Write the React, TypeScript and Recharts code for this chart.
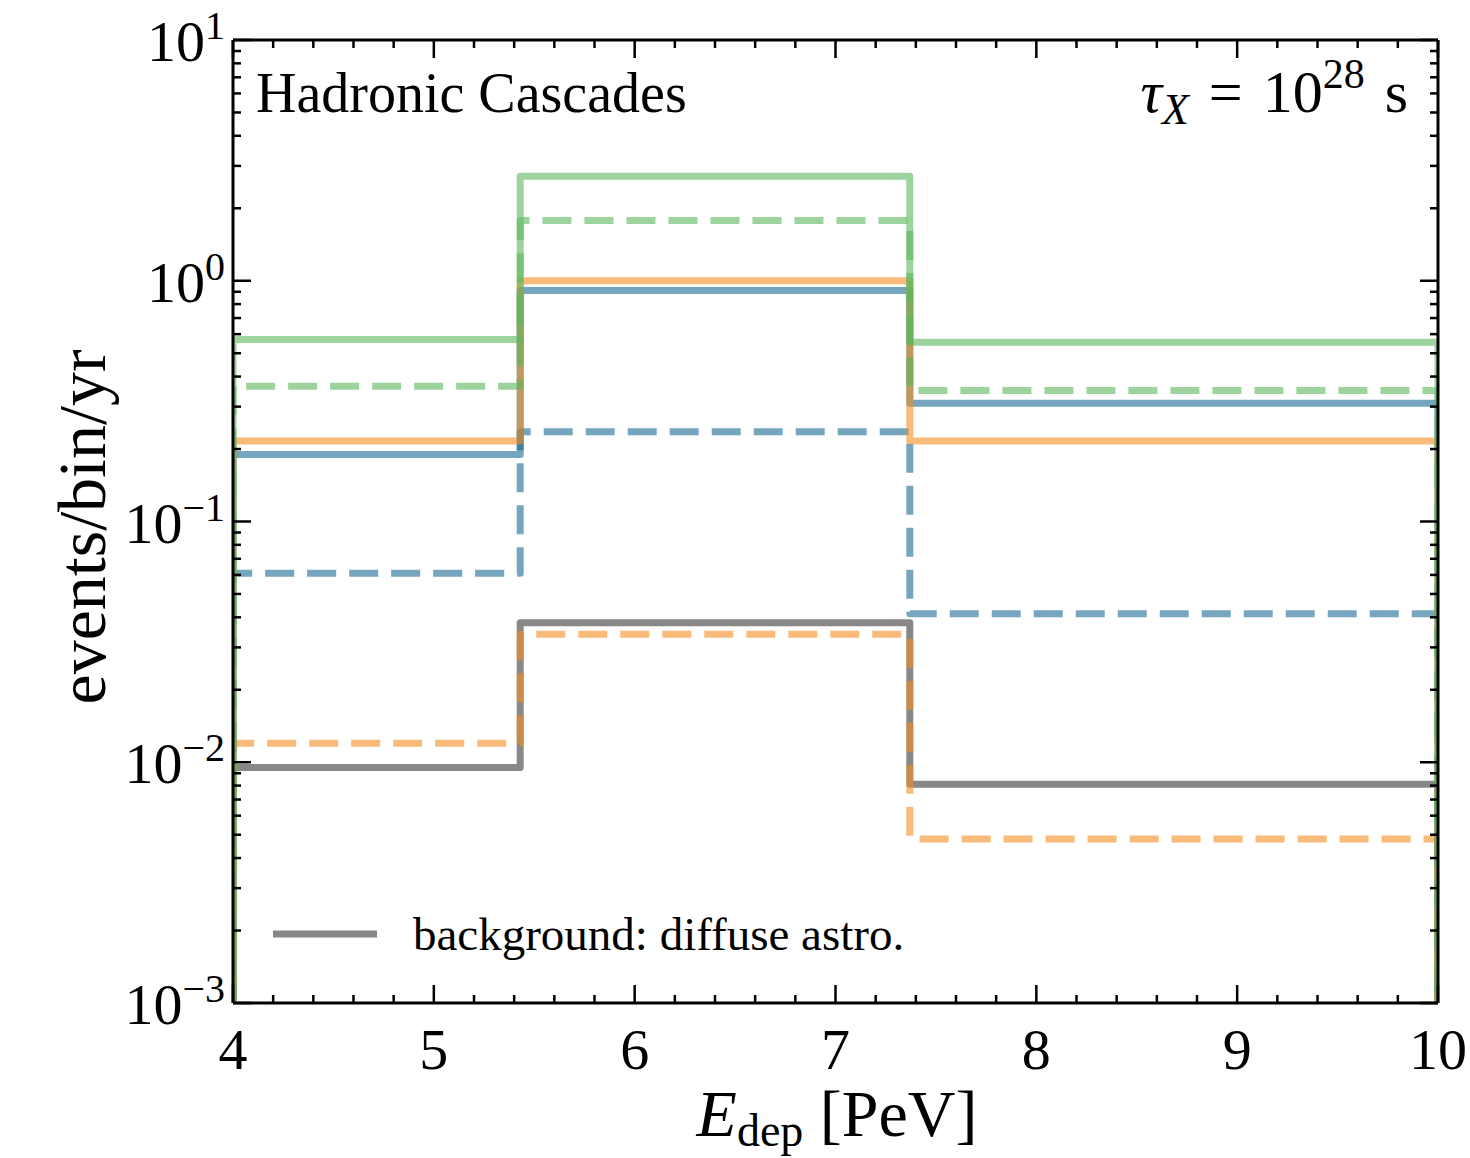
import React from 'react';
import { LineChart, Line, XAxis, YAxis } from 'recharts';

// bin edges in PeV (log-spaced between 4 and 10)
const binEdges = [4, 5.43, 7.37, 10];

const bgAstro = [0.0095, 0.038, 0.0081];
const blueSolid = [0.19, 0.91, 0.31];
const blueDashed = [0.061, 0.236, 0.0414];
const orangeSolid = [0.216, 1.0, 0.216];
const orangeDashed = [0.012, 0.034, 0.0048];
const greenSolid = [0.57, 2.72, 0.555];
const greenDashed = [0.365, 1.78, 0.35];

const xMajor = [4, 5, 6, 7, 8, 9, 10];
const yMajor = [1e-3, 1e-2, 1e-1, 1, 10];

const Y_FLOOR = 1e-3;

const W = 1470;
const H = 1158;
// axes take 1px each (an axis of zero size is not drawn)
const M = { top: 39, right: 31, bottom: 154, left: 232 };

const FONT = '"Liberation Serif", "DejaVu Serif", serif';

function stepData(vals: number[]) {
  const pts: { x: number; y: number }[] = [{ x: binEdges[0], y: Y_FLOOR }];
  vals.forEach((v, i) => {
    pts.push({ x: binEdges[i], y: v });
    pts.push({ x: binEdges[i + 1], y: v });
  });
  pts.push({ x: binEdges[binEdges.length - 1], y: Y_FLOOR });
  return pts;
}

const xTicks: number[] = [];
for (let i = 0; i <= 30; i++) xTicks.push(Math.round((4 + i * 0.2) * 10) / 10);

const yTicks: number[] = [];
for (let d = -3; d <= 0; d++) {
  for (let k = 1; k <= 9; k++) yTicks.push(k * Math.pow(10, d));
}
yTicks.push(10);

const isMajorX = (v: number) => xMajor.some((m) => Math.abs(v - m) < 1e-6);
const isMajorY = (v: number) => yMajor.some((m) => Math.abs(v / m - 1) < 1e-6);

const MAJ = 18;
const MIN = 8;
const TW = 2.5;

const BottomTick = (p: any) => {
  const { x, y, payload } = p;
  const v = payload.value;
  const major = isMajorX(v);
  return (
    <g>
      <line x1={x} x2={x} y1={y} y2={y - (major ? MAJ : MIN)} stroke="#000" strokeWidth={TW} />
      {major && (
        <text x={x} y={y + 66} textAnchor="middle" fontSize={58} fontFamily={FONT} fill="#000">
          {v}
        </text>
      )}
    </g>
  );
};

const TopTick = (p: any) => {
  const { x, y, payload } = p;
  const major = isMajorX(payload.value);
  return <line x1={x} x2={x} y1={y} y2={y + (major ? MAJ : MIN)} stroke="#000" strokeWidth={TW} />;
};

const LeftTick = (p: any) => {
  const { x, y, payload } = p;
  const v = payload.value;
  const major = isMajorY(v);
  const exp = Math.round(Math.log10(v));
  return (
    <g>
      <line x1={x} x2={x + (major ? MAJ : MIN)} y1={y} y2={y} stroke="#000" strokeWidth={TW} />
      {major && (
        <text x={x - 8} y={y + 21} textAnchor="end" fontSize={58} fontFamily={FONT} fill="#000">
          10
          <tspan dy={-22} fontSize={40}>
            {exp < 0 ? '\u2212' + Math.abs(exp) : String(exp)}
          </tspan>
        </text>
      )}
    </g>
  );
};

const RightTick = (p: any) => {
  const { x, y, payload } = p;
  const major = isMajorY(payload.value);
  return <line x1={x} x2={x - (major ? MAJ : MIN)} y1={y} y2={y} stroke="#000" strokeWidth={TW} />;
};

const series = [
  { key: 'bg', vals: bgAstro, color: '#393939', dash: undefined },
  { key: 'blueS', vals: blueSolid, color: '#196994', dash: undefined },
  { key: 'blueD', vals: blueDashed, color: '#196994', dash: '29 13' },
  { key: 'orangeS', vals: orangeSolid, color: '#f38e21', dash: undefined },
  { key: 'orangeD', vals: orangeDashed, color: '#f38e21', dash: '29 13' },
  { key: 'greenS', vals: greenSolid, color: '#5cb85c', dash: undefined },
  { key: 'greenD', vals: greenDashed, color: '#5cb85c', dash: '29 13' },
];

export default function App() {
  const axisLine = { stroke: '#000', strokeWidth: 3 };
  return (
    <div style={{ position: 'relative', width: W, height: H, background: '#fff', overflow: 'hidden' }}>
      <style>{'body{margin:0;overflow:hidden}'}</style>
      <LineChart width={W} height={H} margin={M}>
        <XAxis
          xAxisId="b"
          type="number"
          dataKey="x"
          domain={[4, 10]}
          ticks={xTicks}
          interval={0}
          height={1}
          tickSize={0}
          tickMargin={0}
          tickLine={false}
          axisLine={axisLine}
          tick={<BottomTick />}
          allowDataOverflow
        />
        <XAxis
          xAxisId="t"
          orientation="top"
          type="number"
          dataKey="x"
          domain={[4, 10]}
          ticks={xTicks}
          interval={0}
          height={1}
          tickSize={0}
          tickMargin={0}
          tickLine={false}
          axisLine={axisLine}
          tick={<TopTick />}
          allowDataOverflow
        />
        <YAxis
          yAxisId="l"
          scale="log"
          type="number"
          domain={[1e-3, 10]}
          ticks={yTicks}
          interval={0}
          width={1}
          tickSize={0}
          tickMargin={0}
          tickLine={false}
          axisLine={axisLine}
          tick={<LeftTick />}
          allowDataOverflow
        />
        <YAxis
          yAxisId="r"
          orientation="right"
          scale="log"
          type="number"
          domain={[1e-3, 10]}
          ticks={yTicks}
          interval={0}
          width={1}
          tickSize={0}
          tickMargin={0}
          tickLine={false}
          axisLine={axisLine}
          tick={<RightTick />}
          allowDataOverflow
        />
        {series.map((s) => (
          <Line
            key={s.key}
            xAxisId="b"
            yAxisId="l"
            data={stepData(s.vals)}
            dataKey="y"
            type="linear"
            stroke={s.color}
            strokeOpacity={0.6}
            strokeWidth={7}
            strokeDasharray={s.dash}
            strokeLinejoin="round"
            dot={false}
            activeDot={false}
            isAnimationActive={false}
          />
        ))}
      </LineChart>
      <svg
        width={W}
        height={H}
        style={{ position: 'absolute', left: 0, top: 0, pointerEvents: 'none' }}
        fontFamily={FONT}
      >
        <text x={256} y={112} fontSize={56} fill="#000">
          Hadronic Cascades
        </text>
        <text x={1408} y={112} fontSize={60} fill="#000" textAnchor="end">
          <tspan fontStyle="italic">τ</tspan>
          <tspan fontStyle="italic" fontSize={44} dy={12}>X</tspan>
          <tspan dy={-12}>{'\u2004=\u200410'}</tspan>
          <tspan fontSize={42} dy={-24}>28</tspan>
          <tspan dy={24}>{'\u2004s'}</tspan>
        </text>
        <text
          transform="translate(105 527) rotate(-90)"
          textAnchor="middle"
          fontSize={68}
          fill="#000"
        >
          events/bin/yr
        </text>
        <text x={837} y={1136} textAnchor="middle" fontSize={66} fill="#000">
          <tspan fontStyle="italic">E</tspan>
          <tspan fontSize={46} dy={10}>dep</tspan>
          <tspan dy={-10}> [PeV]</tspan>
        </text>
        <line x1={273} x2={377} y1={934} y2={934} stroke="#393939" strokeOpacity={0.6} strokeWidth={7} />
        <text x={413} y={950} fontSize={47} fill="#000">
          background: diffuse astro.
        </text>
      </svg>
    </div>
  );
}
